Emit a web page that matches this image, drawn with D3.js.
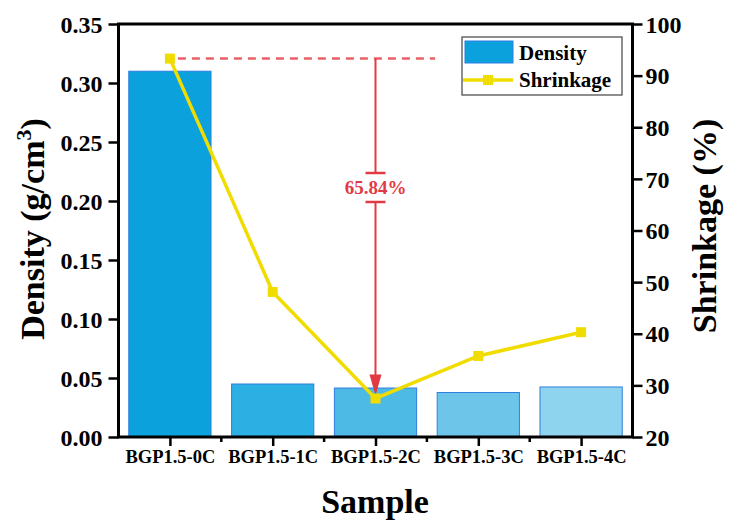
<!DOCTYPE html>
<html>
<head>
<meta charset="utf-8">
<script src="https://cdn.jsdelivr.net/npm/d3@7/dist/d3.min.js"></script>
<style>
  body { margin: 0; background: #fff; }
  text { font-family: "Liberation Serif", "Times New Roman", serif; font-weight: bold; }
</style>
</head>
<body>
<div id="chart"></div>
<script>
const samples = ["BGP1.5-0C", "BGP1.5-1C", "BGP1.5-2C", "BGP1.5-3C", "BGP1.5-4C"];
const density = [0.310, 0.0449, 0.0415, 0.0377, 0.0424];
const shrinkage = [93.30, 48.1, 27.46, 35.7, 40.3];
const barColors = ["#0ba1dc", "#2cafe2", "#4db9e5", "#6dc6ea", "#8fd4ee"];
const densityTicks = [0, 0.05, 0.10, 0.15, 0.20, 0.25, 0.30, 0.35];
const shrinkTicks = [20, 30, 40, 50, 60, 70, 80, 90, 100];

const width = 731, height = 525;
const plotLeft = 118.5, plotRight = 632.5, plotTop = 24, plotBottom = 437;

let svg = d3.select("#chart").append("svg")
  .attr("width", width)
  .attr("height", height);

let x = d3.scaleLinear().domain([0.5, 5.5]).range([plotLeft, plotRight]);
let yL = d3.scaleLinear().domain([0, 0.35]).range([plotBottom, plotTop]);
let yR = d3.scaleLinear().domain([20, 100]).range([plotBottom, plotTop]);

// bars
const barW = 0.8;
svg.append("g").selectAll("rect")
  .data(density)
  .enter().append("rect")
  .attr("x", (d, i) => x(i + 1 - barW / 2))
  .attr("width", x(barW) - x(0))
  .attr("y", d => yL(d))
  .attr("height", d => yL(0) - yL(d))
  .attr("fill", (d, i) => barColors[i])
  .attr("stroke", "#2f7fe0")
  .attr("stroke-width", 1);

// axes
const axisStyle = g => {
  g.select(".domain").remove();
  g.selectAll(".tick line").attr("stroke", "#000").attr("stroke-width", 2.5);
  g.selectAll(".tick text").attr("fill", "#000");
};

svg.append("g")
  .attr("transform", `translate(${plotLeft},0)`)
  .call(d3.axisLeft(yL).tickValues(densityTicks).tickFormat(d3.format(".2f")).tickSize(10).tickPadding(6))
  .call(axisStyle)
  .selectAll("text").style("font-size", "24px").attr("dy", "0.34em");

svg.append("g")
  .attr("transform", `translate(${plotRight},0)`)
  .call(d3.axisRight(yR).tickValues(shrinkTicks).tickFormat(d3.format("d")).tickSize(10).tickPadding(3))
  .call(axisStyle)
  .selectAll("text").style("font-size", "24px").attr("dy", "0.34em");

svg.append("g")
  .attr("transform", `translate(0,${plotBottom})`)
  .call(d3.axisBottom(x).tickValues([1, 2, 3, 4, 5]).tickFormat(d => samples[d - 1]).tickSize(9).tickPadding(4))
  .call(axisStyle)
  .selectAll("text").style("font-size", "18.5px");

// minor ticks at bar boundaries
svg.append("g").selectAll("line")
  .data([1.5, 2.5, 3.5, 4.5])
  .enter().append("line")
  .attr("x1", d => x(d)).attr("x2", d => x(d))
  .attr("y1", plotBottom).attr("y2", plotBottom + 5)
  .attr("stroke", "#000").attr("stroke-width", 2.5);

// frame
svg.append("rect")
  .attr("x", plotLeft).attr("y", plotTop)
  .attr("width", plotRight - plotLeft).attr("height", plotBottom - plotTop)
  .attr("fill", "none").attr("stroke", "#000").attr("stroke-width", 3);

// annotation: dashed level line + arrow
const redLight = "#ea6068", red = "#e23a45";
const ax = x(3);
const y0 = yR(shrinkage[0]);
svg.append("line")
  .attr("x1", x(1) + 8).attr("x2", x(3.58))
  .attr("y1", y0).attr("y2", y0)
  .attr("stroke", redLight).attr("stroke-width", 2.5).attr("stroke-dasharray", "8,6");

const capTop = 173, capBottom = 202;
svg.append("line")
  .attr("x1", ax).attr("x2", ax)
  .attr("y1", y0).attr("y2", capTop)
  .attr("stroke", red).attr("stroke-width", 2);
svg.append("line")
  .attr("x1", ax - 10).attr("x2", ax + 10)
  .attr("y1", capTop).attr("y2", capTop)
  .attr("stroke", red).attr("stroke-width", 2.5);
svg.append("line")
  .attr("x1", ax - 10).attr("x2", ax + 10)
  .attr("y1", capBottom).attr("y2", capBottom)
  .attr("stroke", red).attr("stroke-width", 2.5);
const tipY = yR(shrinkage[2]) - 3;
svg.append("line")
  .attr("x1", ax).attr("x2", ax)
  .attr("y1", capBottom).attr("y2", tipY - 18)
  .attr("stroke", red).attr("stroke-width", 2);
svg.append("path")
  .attr("d", `M${ax - 6},${tipY - 21}L${ax + 6},${tipY - 21}L${ax},${tipY}Z`)
  .attr("fill", red);
svg.append("text")
  .attr("x", ax).attr("y", 194)
  .attr("text-anchor", "middle")
  .style("font-size", "19px")
  .attr("fill", red)
  .text("65.84%");

// shrinkage line
let line = d3.line().x((d, i) => x(i + 1)).y(d => yR(d));
svg.append("path")
  .datum(shrinkage)
  .attr("d", line)
  .attr("fill", "none")
  .attr("stroke", "#f1dc00")
  .attr("stroke-width", 3.5);
svg.append("g").selectAll("rect")
  .data(shrinkage)
  .enter().append("rect")
  .attr("x", (d, i) => x(i + 1) - 5)
  .attr("y", d => yR(d) - 5)
  .attr("width", 10).attr("height", 10)
  .attr("fill", "#f1dc00");

// legend
let legend = svg.append("g");
legend.append("rect")
  .attr("x", 462).attr("y", 37).attr("width", 160).attr("height", 58)
  .attr("fill", "#fff").attr("stroke", "#444").attr("stroke-width", 1.2);
legend.append("rect")
  .attr("x", 465).attr("y", 41).attr("width", 48).attr("height", 22)
  .attr("fill", barColors[0]).attr("stroke", "#2f7fe0").attr("stroke-width", 1);
legend.append("text").attr("x", 519).attr("y", 60).style("font-size", "21px").text("Density");
legend.append("line")
  .attr("x1", 463).attr("x2", 513).attr("y1", 80).attr("y2", 80)
  .attr("stroke", "#f1dc00").attr("stroke-width", 3.5);
legend.append("rect")
  .attr("x", 483).attr("y", 75).attr("width", 10).attr("height", 10)
  .attr("fill", "#f1dc00");
legend.append("text").attr("x", 519).attr("y", 87).style("font-size", "21px").text("Shrinkage");

// axis titles
let yTitle = svg.append("text")
  .attr("transform", "translate(44,229) rotate(-90)")
  .attr("text-anchor", "middle")
  .style("font-size", "34px");
yTitle.append("tspan").text("Density (g/cm");
yTitle.append("tspan").attr("dy", -13).style("font-size", "22px").text("3");
yTitle.append("tspan").attr("dy", 13).text(")");

svg.append("text")
  .attr("transform", "translate(716,226) rotate(-90)")
  .attr("text-anchor", "middle")
  .style("font-size", "34px")
  .text("Shrinkage (%)");

svg.append("text")
  .attr("x", 375).attr("y", 513)
  .attr("text-anchor", "middle")
  .style("font-size", "34px")
  .text("Sample");
</script>
</body>
</html>
